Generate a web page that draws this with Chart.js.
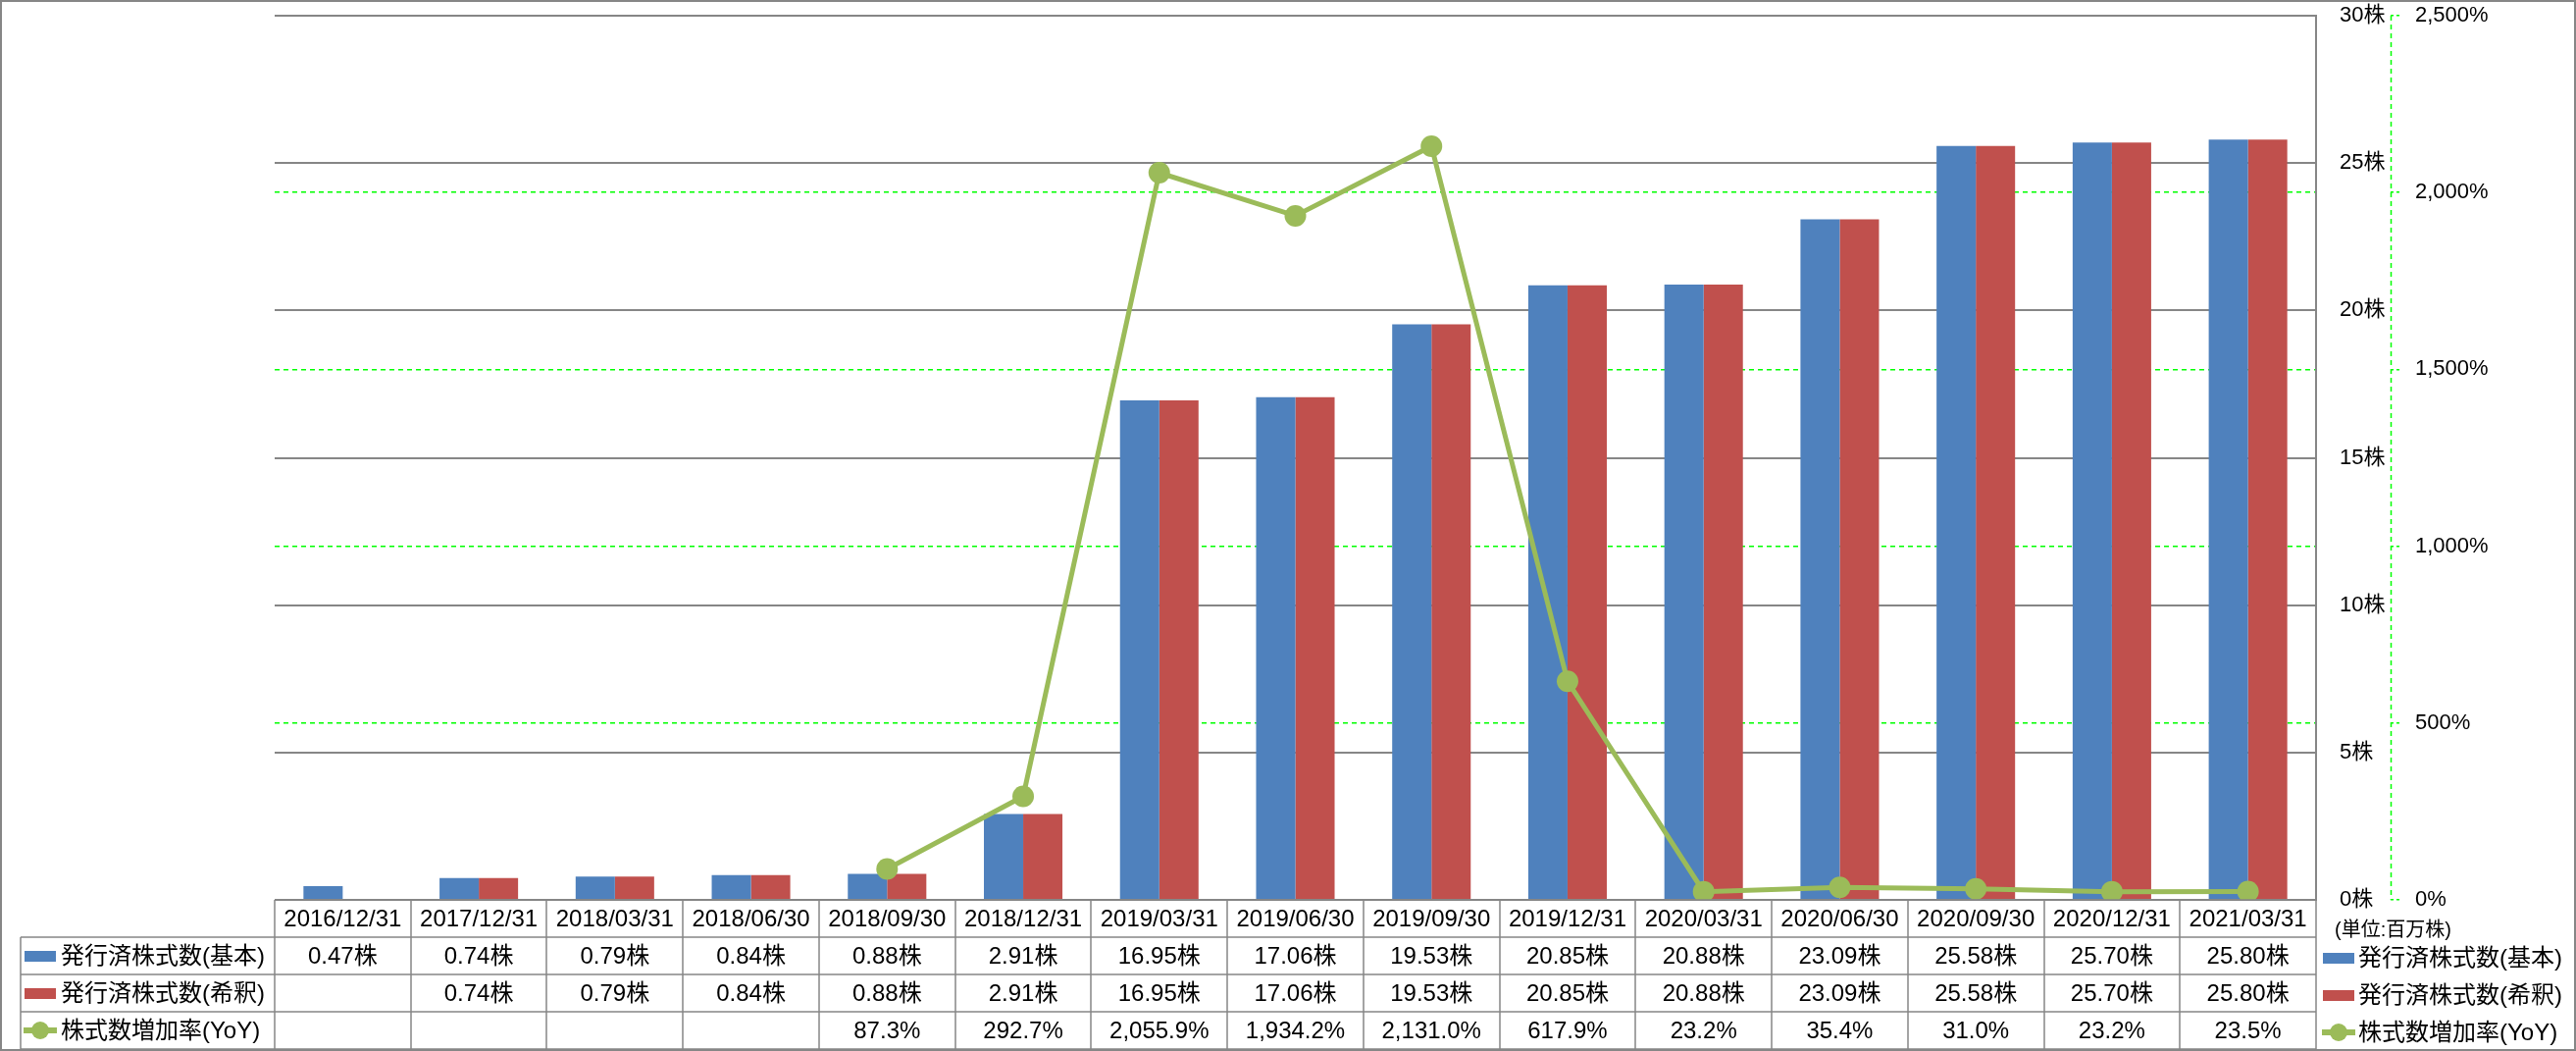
<!DOCTYPE html>
<html>
<head>
<meta charset="utf-8">
<script src="https://cdn.jsdelivr.net/npm/chart.js@4/dist/chart.umd.min.js"></script>
<style>
  html, body { margin: 0; padding: 0; background: #fff; }
  #shares_chart { display: block; }
</style>
</head>
<body>
<canvas id="shares_chart" width="2626" height="1071"></canvas>
<script>
// data
const dates = ['2016/12/31', '2017/12/31', '2018/03/31', '2018/06/30', '2018/09/30',
    '2018/12/31', '2019/03/31', '2019/06/30', '2019/09/30', '2019/12/31',
    '2020/03/31', '2020/06/30', '2020/09/30', '2020/12/31', '2021/03/31'];
const basicShares = [0.47, 0.74, 0.79, 0.84, 0.88, 2.91, 16.95, 17.06, 19.53, 20.85, 20.88, 23.09, 25.58, 25.70, 25.80];
const dilutedShares = [null, 0.74, 0.79, 0.84, 0.88, 2.91, 16.95, 17.06, 19.53, 20.85, 20.88, 23.09, 25.58, 25.70, 25.80];
const yoyGrowth = [null, null, null, null, 87.3, 292.7, 2055.9, 1934.2, 2131.0, 617.9, 23.2, 35.4, 31.0, 23.2, 23.5];
const seriesNames = ['発行済株式数(基本)', '発行済株式数(希釈)', '株式数増加率(YoY)'];
const shareTicks = [0, 5, 10, 15, 20, 25, 30];
const pctTicks = [0, 500, 1000, 1500, 2000, 2500];
const unitLabel = '(単位:百万株)';

const BLUE = '#4F81BD';
const RED = '#C0504D';
const GREEN = '#9BBB59';
const GRID = '#868686';
const FONT = '"Liberation Sans", "Noto Sans CJK JP", sans-serif';

function fmtShares(v) {
    return v == null ? '' : v.toFixed(2) + '株';
}
function fmtPct(v) {
    return v == null ? '' : v.toLocaleString('en-US', {minimumFractionDigits: 1, maximumFractionDigits: 1}) + '%';
}

function drawKey(ctx, kind, x, y) {
    if (kind === 2) {
        ctx.strokeStyle = GREEN;
        ctx.lineWidth = 6;
        ctx.beginPath();
        ctx.moveTo(x, y);
        ctx.lineTo(x + 34, y);
        ctx.stroke();
        ctx.fillStyle = GREEN;
        ctx.beginPath();
        ctx.arc(x + 17, y, 9, 0, Math.PI * 2);
        ctx.fill();
    } else {
        ctx.fillStyle = kind === 0 ? BLUE : RED;
        ctx.fillRect(x + 1, y - 5, 32, 11);
    }
}

// dashed line for the % axis (Chart.js draws the border solid)
const pctAxisLine = {
    id: 'pctAxisLine',
    afterDraw(chart) {
        const s = chart.scales.y1;
        const ctx = chart.ctx;
        ctx.save();
        ctx.strokeStyle = '#00FF00';
        ctx.lineWidth = 1.5;
        ctx.setLineDash([5, 4]);
        ctx.beginPath();
        ctx.moveTo(s.left + 0.5, s.top);
        ctx.lineTo(s.left + 0.5, s.bottom);
        ctx.stroke();
        ctx.restore();
    }
};

// data table + legend under the plot
const dataTable = {
    id: 'dataTable',
    afterDraw(chart) {
        const ctx = chart.ctx;
        const xs = chart.scales.x;
        const area = chart.chartArea;
        const top = area.bottom;
        const rowH = 38;
        const colW = (area.right - area.left) / dates.length;
        const labelLeft = 21;
        const rows = [basicShares.map(fmtShares), dilutedShares.map(fmtShares), yoyGrowth.map(fmtPct)];

        ctx.save();
        ctx.strokeStyle = GRID;
        ctx.lineWidth = 1.5;
        ctx.beginPath();
        // horizontal lines
        ctx.moveTo(area.left, top);
        ctx.lineTo(area.right, top);
        for (let r = 1; r <= 4; r++) {
            ctx.moveTo(labelLeft, top + r * rowH);
            ctx.lineTo(area.right, top + r * rowH);
        }
        // vertical lines
        for (let i = 0; i <= dates.length; i++) {
            const x = Math.round(area.left + i * colW);
            ctx.moveTo(x, top);
            ctx.lineTo(x, top + 4 * rowH);
        }
        ctx.moveTo(labelLeft, top + rowH);
        ctx.lineTo(labelLeft, top + 4 * rowH);
        ctx.stroke();

        ctx.fillStyle = '#000';
        ctx.font = '24px ' + FONT;
        ctx.textAlign = 'center';
        ctx.textBaseline = 'middle';
        dates.forEach((d, i) => {
            const cx = xs.getPixelForValue(i);
            ctx.fillText(d, cx, top + rowH / 2 + 1);
            rows.forEach((row, r) => {
                ctx.fillText(row[i], cx, top + (r + 1.5) * rowH + 1);
            });
        });

        // row labels
        seriesNames.forEach((name, r) => {
            const cy = top + (r + 1.5) * rowH;
            drawKey(ctx, r, 24, cy);
            ctx.fillStyle = '#000';
            ctx.font = '24px ' + FONT;
            ctx.textAlign = 'left';
            ctx.fillText(name, 62, cy + 1);
        });

        // right legend
        seriesNames.forEach((name, r) => {
            const cy = top + (r + 1.5) * rowH + 2;
            drawKey(ctx, r, 2367, cy);
            ctx.fillStyle = '#000';
            ctx.font = '24px ' + FONT;
            ctx.textAlign = 'left';
            ctx.fillText(name, 2404, cy + 1);
        });

        ctx.font = '20px ' + FONT;
        ctx.textAlign = 'left';
        ctx.fillText(unitLabel, 2380, top + 31);

        // outer frame
        ctx.strokeStyle = GRID;
        ctx.lineWidth = 2;
        ctx.strokeRect(1, 1, chart.width - 2, chart.height - 2);
        ctx.restore();
    }
};

(function shares_chart()
{
    const el = document.getElementById('shares_chart');
    const myChart = new Chart(el, {
        type: 'bar',
        data: {
            labels: dates,
            datasets: [{
                label: seriesNames[0],
                data: basicShares,
                backgroundColor: BLUE,
                yAxisID: 'y',
                order: 1
            }, {
                label: seriesNames[1],
                data: dilutedShares,
                backgroundColor: RED,
                yAxisID: 'y',
                order: 1
            }, {
                type: 'line',
                label: seriesNames[2],
                data: yoyGrowth,
                borderColor: GREEN,
                backgroundColor: GREEN,
                borderWidth: 5,
                pointRadius: 11,
                pointHoverRadius: 11,
                pointBorderWidth: 0,
                tension: 0,
                yAxisID: 'y1',
                order: 0
            }]
        },
        options: {
            responsive: false,
            devicePixelRatio: 1,
            animation: false,
            categoryPercentage: 0.577,
            barPercentage: 1.0,
            layout: { padding: { left: 280, top: 16, right: 0, bottom: 154 } },
            plugins: {
                legend: { display: false },
                tooltip: { enabled: false }
            },
            scales: {
                x: {
                    display: false,
                    offset: true
                },
                y: {
                    position: 'right',
                    min: 0,
                    max: 30,
                    afterBuildTicks: s => { s.ticks = shareTicks.map(v => ({value: v})); },
                    afterFit: s => { s.width = 76; s.paddingTop = 0; s.paddingBottom = 0; },
                    ticks: {
                        crossAlign: 'near',
                        padding: 24,
                        color: '#000',
                        font: { family: FONT, size: 22 },
                        callback: v => v + '株'
                    },
                    grid: { color: GRID, lineWidth: 2, drawTicks: false },
                    border: { display: true, color: GRID, width: 2 }
                },
                y1: {
                    position: 'right',
                    min: 0,
                    max: 2500,
                    afterBuildTicks: s => { s.ticks = pctTicks.map(v => ({value: v})); },
                    afterFit: s => { s.width = 189; s.paddingTop = 0; s.paddingBottom = 0; },
                    ticks: {
                        crossAlign: 'near',
                        padding: 16,
                        color: '#000',
                        font: { family: FONT, size: 22 },
                        callback: v => v.toLocaleString('en-US') + '%'
                    },
                    grid: {
                        color: c => (c.tick && (c.tick.value === 0 || c.tick.value === 2500)) ? 'rgba(0,0,0,0)' : '#00FF00',
                        lineWidth: 1.5,
                        borderDash: [5, 4],
                        tickColor: '#00FF00',
                        tickLength: 9,
                        tickWidth: 1.5,
                        tickBorderDash: [3, 3]
                    },
                    border: { display: false, dash: [5, 4] }
                }
            }
        },
        plugins: [dataTable, pctAxisLine]
    });
})();
</script>
</body>
</html>
